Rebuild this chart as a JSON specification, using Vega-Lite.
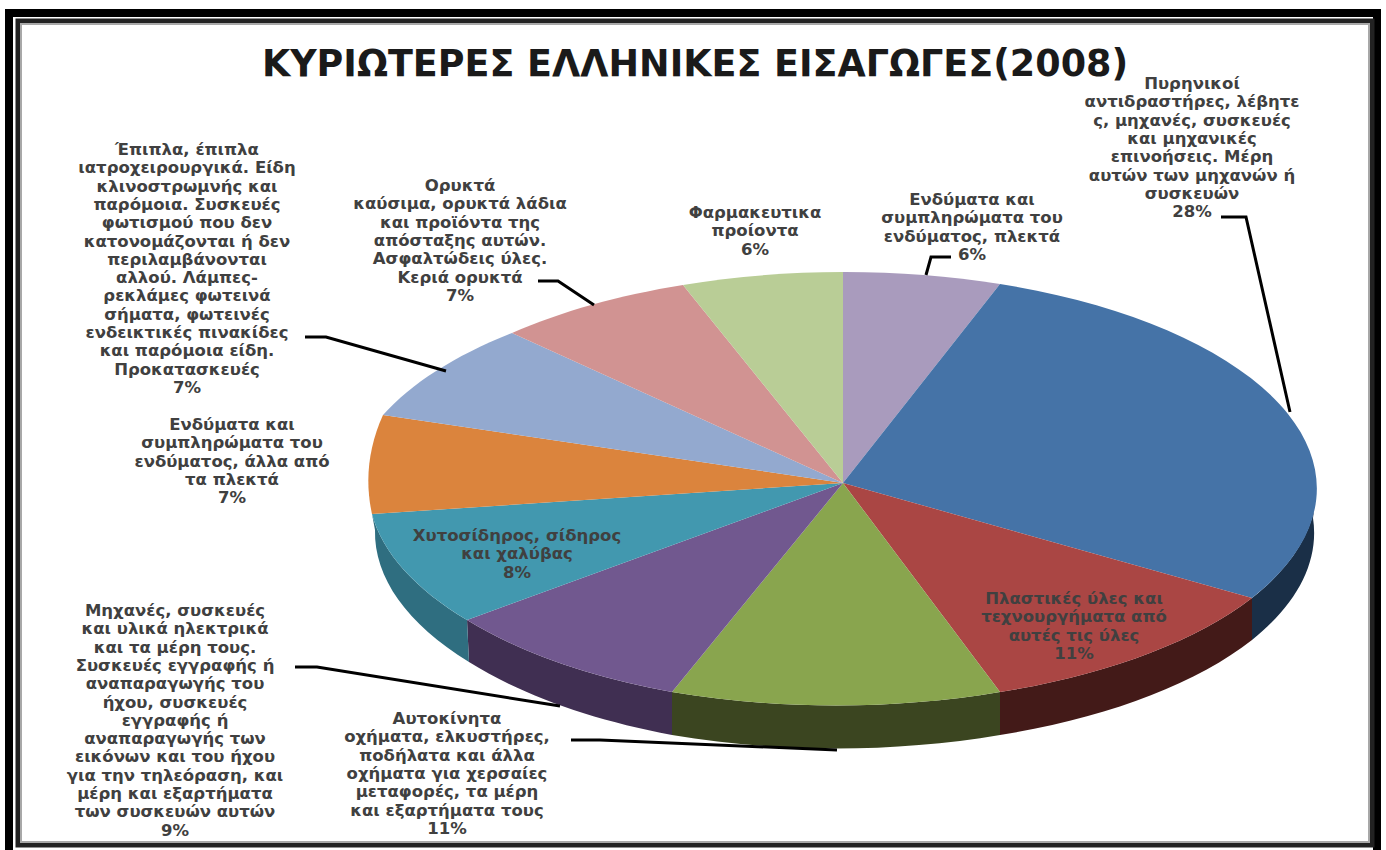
{
"$schema":"https://vega.github.io/schema/vega-lite/v6.json",
"width":1386,"height":850,"autosize":"none","padding":0,"background":"white",
"config":{"view":{"stroke":null}},
"title":{"text":"ΚΥΡΙΩΤΕΡΕΣ ΕΛΛΗΝΙΚΕΣ ΕΙΣΑΓΩΓΕΣ(2008)","anchor":"middle","font":"DejaVu Sans","fontSize":36.5,"fontWeight":"bold","color":"#1a1a1a","baseline":"alphabetic","offset":0,"dy":115,"dx":2},
"data":{"values":[
{"order":1,"name":"Ενδύματα πλεκτά","share":6,"label":"Ενδύματα και\nσυμπληρώματα του\nενδύματος, πλεκτά\n6%"},
{"order":2,"name":"Πυρηνικοί αντιδραστήρες","share":28,"label":"Πυρηνικοί\nαντιδραστήρες, λέβητε\nς, μηχανές, συσκευές\nκαι μηχανικές\nεπινοήσεις. Μέρη\nαυτών των μηχανών ή\nσυσκευών\n28%"},
{"order":3,"name":"Πλαστικές ύλες","share":11,"label":"Πλαστικές ύλες και\nτεχνουργήματα από\nαυτές τις ύλες\n11%"},
{"order":4,"name":"Αυτοκίνητα οχήματα","share":11,"label":"Αυτοκίνητα\nοχήματα, ελκυστήρες,\nποδήλατα και άλλα\nοχήματα για χερσαίες\nμεταφορές, τα μέρη\nκαι εξαρτήματα τους\n11%"},
{"order":5,"name":"Μηχανές ηλεκτρικές","share":9,"label":"Μηχανές, συσκευές\nκαι υλικά ηλεκτρικά\nκαι τα μέρη τους.\nΣυσκευές εγγραφής ή\nαναπαραγωγής του\nήχου, συσκευές\nεγγραφής ή\nαναπαραγωγής των\nεικόνων και του ήχου\nγια την τηλεόραση, και\nμέρη και εξαρτήματα\nτων συσκευών αυτών\n9%"},
{"order":6,"name":"Χυτοσίδηρος","share":8,"label":"Χυτοσίδηρος,  σίδηρος\nκαι χαλύβας\n8%"},
{"order":7,"name":"Ενδύματα άλλα","share":7,"label":"Ενδύματα και\nσυμπληρώματα του\nενδύματος, άλλα από\nτα πλεκτά\n7%"},
{"order":8,"name":"Έπιπλα","share":7,"label":"Έπιπλα, έπιπλα\nιατροχειρουργικά. Είδη\nκλινοστρωμνής και\nπαρόμοια. Συσκευές\nφωτισμού που δεν\nκατονομάζονται ή δεν\nπεριλαμβάνονται\nαλλού. Λάμπες-\nρεκλάμες φωτεινά\nσήματα, φωτεινές\nενδεικτικές πινακίδες\nκαι παρόμοια είδη.\nΠροκατασκευές\n7%"},
{"order":9,"name":"Ορυκτά καύσιμα","share":7,"label":"Ορυκτά\nκαύσιμα, ορυκτά λάδια\nκαι προϊόντα της\nαπόσταξης αυτών.\nΑσφαλτώδεις ύλες.\nΚεριά ορυκτά\n7%"},
{"order":10,"name":"Φαρμακευτικά","share":6,"label":"Φαρμακευτικα\nπροίοντα\n6%"}
]},
"resolve":{"scale":{"x":"independent","y":"independent","shape":"independent","fill":"independent"}},
"layer":[
{"transform":[{"filter":{"field":"order","oneOf":[2,3,4,5,6]}}],
 "mark":{"type":"point","filled":true,"opacity":1,"size":4,"strokeWidth":0},
 "encoding":{
  "x":{"datum":0,"type":"quantitative","scale":{"domain":[0,1386]},"axis":null},
  "y":{"datum":0,"type":"quantitative","scale":{"domain":[0,850],"reverse":true},"axis":null},
  "fill":{"field":"order","type":"nominal","legend":null,"scale":{"domain":[2,3,4,5,6],"range":["#1a2f47","#431a18","#3b4520","#402f52","#2f6e80"]}},
  "shape":{"field":"order","type":"nominal","legend":null,"scale":{"domain":[2,3,4,5,6],"range":[
   "M1252,598A472,216.5 0 0 0 1314,510L1313,518A468,215 0 0 1 1252,640Z",
   "M1252,598A472,216.5 0 0 1 1000,692L1000,735A472,216.5 0 0 0 1252,640Z",
   "M1000,692A472,216.5 0 0 1 672,692L672,735A472,216.5 0 0 0 1000,735Z",
   "M672,692A472,216.5 0 0 1 467,620L469,662A472,216.5 0 0 0 672,735Z",
   "M467,620A472,216.5 0 0 1 372,514L375,530A472,216.5 0 0 0 469,662Z"
  ]}}
 }},
{"mark":{"type":"point","filled":true,"opacity":1,"size":4,"strokeWidth":0},
 "encoding":{
  "x":{"datum":0,"type":"quantitative","scale":{"domain":[0,1386]},"axis":null},
  "y":{"datum":0,"type":"quantitative","scale":{"domain":[0,850],"reverse":true},"axis":null},
  "fill":{"field":"order","type":"nominal","legend":null,"scale":{"domain":[1,2,3,4,5,6,7,8,9,10],"range":["#a99bbd","#4573a7","#aa4644","#89a54e","#71588f","#4298af","#db843d","#93a9cf","#d19392","#b9cd96"]}},
  "shape":{"field":"order","type":"nominal","legend":null,"scale":{"domain":[1,2,3,4,5,6,7,8,9,10],"range":[
   "M843,483L843,272A472,216.5 0 0 1 1000,284Z",
   "M843,483L1000,284A472,216.5 0 0 1 1252,598Z",
   "M843,483L1252,598A472,216.5 0 0 1 1000,692Z",
   "M843,483L1000,692A472,216.5 0 0 1 672,692Z",
   "M843,483L672,692A472,216.5 0 0 1 467,620Z",
   "M843,483L467,620A472,216.5 0 0 1 372,514Z",
   "M843,483L372,514A472,266 0 0 1 383,415Z",
   "M843,483L383,415A472,216.5 0 0 1 512,333Z",
   "M843,483L512,333A472,216.5 0 0 1 683,285Z",
   "M843,483L683,285A472,216.5 0 0 1 843,272Z"
  ]}}
 }},
{"transform":[{"filter":{"field":"order","oneOf":[1,2,4,5,8,9]}}],
 "mark":{"type":"point","filled":false,"opacity":1,"size":4,"strokeWidth":3,"stroke":"black"},
 "encoding":{
  "x":{"datum":0,"type":"quantitative","scale":{"domain":[0,1386]},"axis":null},
  "y":{"datum":0,"type":"quantitative","scale":{"domain":[0,850],"reverse":true},"axis":null},
  "shape":{"field":"order","type":"nominal","legend":null,"scale":{"domain":[1,2,4,5,8,9],"range":[
   "M951,257L931,257L926,275",
   "M1221,217L1246,217L1290,412",
   "M571,740L600,740L837,750",
   "M295,667L317,667L560,706",
   "M305,337L326,337L446,371",
   "M538,281L558,281L594,305"
  ]}}
 }},
{"mark":{"type":"text","font":"DejaVu Sans","fontSize":16.5,"fontWeight":"bold","align":"center","baseline":"top","lineBreak":"\n","lineHeight":18.3,"color":"#404040"},
 "encoding":{
  "x":{"field":"order","type":"quantitative","axis":null,"scale":{"domain":[1,2,3,4,5,6,7,8,9,10],"range":[972,1192,1074,447,175,517,232,187,460,755]}},
  "y":{"field":"order","type":"quantitative","axis":null,"scale":{"domain":[1,2,3,4,5,6,7,8,9,10],"range":[192,76,591,711,603,528,417,142,178,205]}},
  "text":{"field":"label","type":"nominal"}
 }},
{"data":{"values":[{"part":"band"},{"part":"inner"},{"part":"shade"}]},
 "mark":{"type":"point","opacity":1,"size":4,"filled":false},
 "encoding":{
  "x":{"datum":0,"type":"quantitative","scale":{"domain":[0,1386]},"axis":null},
  "y":{"datum":0,"type":"quantitative","scale":{"domain":[0,850],"reverse":true},"axis":null},
  "stroke":{"field":"part","type":"nominal","legend":null,"scale":{"domain":["band","inner","shade"],"range":["#000000","#222222","#a8a8a8"]}},
  "strokeWidth":{"field":"part","type":"nominal","legend":null,"scale":{"domain":["band","inner","shade"],"range":[8,2,4]}},
  "shape":{"field":"part","type":"nominal","legend":null,"scale":{"domain":["band","inner","shade"],"range":[
   "M9,850L9,13L1377,13L1377,850",
   "M18,845L18,21L1372,21L1372,845Z",
   "M21,842L21,24L1369,24L1369,842Z"
  ]}}
 }}
]
}
